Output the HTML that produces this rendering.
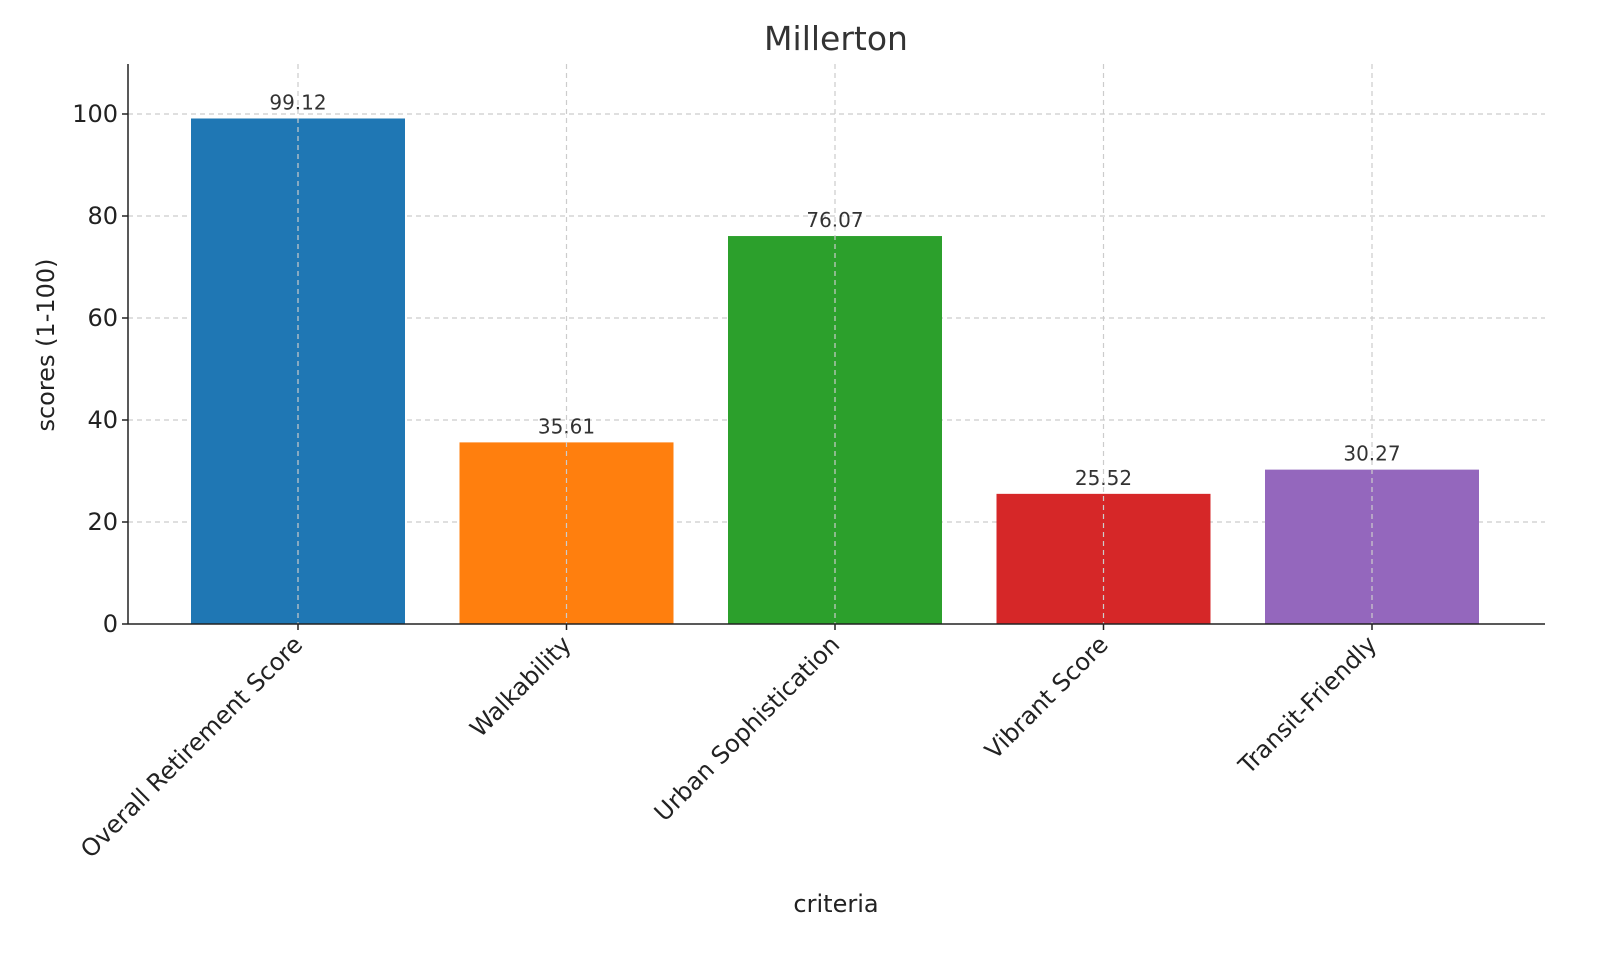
<!DOCTYPE html>
<html><head><meta charset="utf-8"><style>
html,body{margin:0;padding:0;background:#fff;}
svg{display:block;font-family:"DejaVu Sans","Liberation Sans",sans-serif;}
</style></head><body>
<svg id="chart" width="1600" height="960" viewBox="0 0 1600 960">
<text x="836" y="50" font-size="33" text-anchor="middle" fill="#333">Millerton</text>
<g id="grid"></g>
<g id="bars"></g>
<g id="axes"></g>
<text x="836" y="912" font-size="24" text-anchor="middle" fill="#222">criteria</text>
<text transform="translate(54,345) rotate(-90)" font-size="24" text-anchor="middle" fill="#222">scores (1-100)</text>
</svg>
<script>
const categories = ["Overall Retirement Score","Walkability","Urban Sophistication","Vibrant Score","Transit-Friendly"];
const values = [99.12, 35.61, 76.07, 25.52, 30.27];
const valueLabels = ["99.12","35.61","76.07","25.52","30.27"];
const yTicks = [0,20,40,60,80,100];
const colors = ["#1f77b4","#ff7f0e","#2ca02c","#d62728","#9467bd"];

const NS="http://www.w3.org/2000/svg";
const axLeft=128,axRight=1545,axBottom=624,axTop=64;
const yScale=v=>axBottom-(v/100)*(624-114);
const stepX=268.5, firstX=298;
const xScale=i=>firstX+i*stepX;
const bw=214;
function mk(tag,attrs,parent){const e=document.createElementNS(NS,tag);for(const k in attrs)e.setAttribute(k,attrs[k]);parent.appendChild(e);return e;}
const gridG=document.getElementById('grid'),barsG=document.getElementById('bars'),axesG=document.getElementById('axes');
yTicks.forEach(t=>{
  if(t>0){const g=mk('line',{x1:axLeft,x2:axRight,y1:yScale(t),y2:yScale(t),stroke:'#ccc','stroke-dasharray':'5,4','stroke-width':1.2},gridG);
  
  }
  const tk=mk('line',{x1:axLeft-6,x2:axLeft,y1:yScale(t),y2:yScale(t),stroke:'#222','stroke-width':1.5},axesG);
  
  
  const tl=mk('text',{x:axLeft-10,y:yScale(t)+8,'font-size':24,'text-anchor':'end',fill:'#222'},axesG);
  tl.textContent=t;
  
  
});
categories.forEach((c,i)=>{
  const cx=xScale(i);
  const r=mk('rect',{x:cx-bw/2,y:yScale(values[i]),width:bw,height:axBottom-yScale(values[i]),fill:colors[i]},barsG);
  
  
  const vl=mk('text',{x:cx,y:yScale(values[i])-9,'font-size':20,'text-anchor':'middle',fill:'#333'},barsG);
  vl.textContent=valueLabels[i];
  
  
  const vg=mk('line',{x1:cx,x2:cx,y1:axTop,y2:axBottom,stroke:'#ccc','stroke-dasharray':'5,4','stroke-width':1.2},barsG);
  
  
  const tk=mk('line',{x1:cx,x2:cx,y1:axBottom,y2:axBottom+6,stroke:'#222','stroke-width':1.5},axesG);
  
  
  const tl=mk('text',{transform:`translate(${cx+6},${axBottom+22}) rotate(-45)`,'font-size':24,'text-anchor':'end',fill:'#222'},axesG);
  tl.textContent=c;
  
  
});
const ya=mk('line',{x1:axLeft,x2:axLeft,y1:axTop,y2:axBottom,stroke:'#222','stroke-width':1.5},axesG);


const xa=mk('line',{x1:axLeft,x2:axRight,y1:axBottom,y2:axBottom,stroke:'#222','stroke-width':1.5},axesG);


</script>
</body></html>
